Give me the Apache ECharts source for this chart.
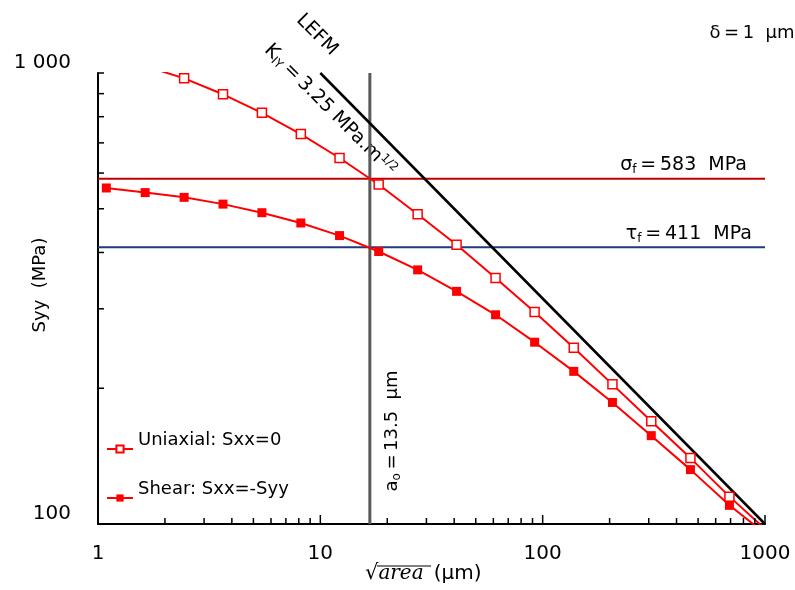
<!DOCTYPE html>
<html><head><meta charset="utf-8">
<script src="https://cdn.jsdelivr.net/npm/echarts@6/dist/echarts.min.js"></script>
<style>html,body{margin:0;padding:0;background:#fff}#c{width:795px;height:590px}</style>
</head><body><div id="c"></div>
<script>
// ---- data ----
const sqrtArea = [1.09, 1.63, 2.44, 3.65, 5.46, 8.17, 12.2, 18.3, 27.4, 41.0, 61.4, 92.0, 138, 206, 308, 462, 692, 1036];
const uniaxial = [1050, 1036, 973, 897, 816, 732, 648, 566, 486, 416, 351, 295, 246, 204, 169, 140, 115, 96];
const shear    = [556, 543, 530, 512, 490, 465, 436, 402, 366, 328, 291, 253, 218, 186, 157, 132, 110, 94];
const lefmX = [10, 1000];
const lefmY = [1000, 100];
const sigmaF = 583;
const tauF = 411;
const a0Line = 16.7;
const xRange = [1, 1000];
const yRange = [100, 1000];
const xMinorTicks = [2,3,4,5,6,7,8,9,20,30,40,50,60,70,80,90,200,300,400,500,600,700,800,900];
const xMajorTicks = [10, 100, 1000];
const yMinorTicks = [200,300,400,500,600,700,800,900];
const yMajorTicks = [1000];
const xTickLabels = {1: '1', 10: '10', 100: '100', 1000: '1000'};
const yTickLabels = {100: '100', 1000: '1 000'};

const FONT = 'DejaVu Sans';
const chart = echarts.init(document.getElementById('c'));
const zip = (a, b) => a.map((v, i) => [v, b[i]]);

function tickSeries(data, dir, len) {
  return {
    type: 'custom', silent: true, clip: false, z: 5,
    data: data,
    renderItem: function (params, api) {
      const p = api.coord([api.value(0), api.value(1)]);
      const shape = dir === 'up'
        ? {x1: p[0], y1: p[1], x2: p[0], y2: p[1] - len}
        : {x1: p[0], y1: p[1], x2: p[0] + len, y2: p[1]};
      return {type: 'line', shape: shape, style: {stroke: '#000', lineWidth: 1.5}};
    }
  };
}

const legendText = {color: '#000', fontSize: 18, fontFamily: FONT,
  rich: {t: {color: '#000', fontSize: 18, fontFamily: FONT, padding: [0, 0, 18, 0]}}};

const option = {
  animation: false,
  textStyle: {fontFamily: FONT},
  grid: {left: 98, right: 30, top: 73, bottom: 66, containLabel: false, outerBoundsMode: 'none'},
  xAxis: {
    type: 'log', logBase: 10, min: xRange[0], max: xRange[1],
    axisLine: {lineStyle: {color: '#000', width: 2}},
    axisTick: {show: false}, splitLine: {show: false},
    axisLabel: {color: '#000', fontSize: 20, margin: 20, fontFamily: FONT,
      formatter: v => xTickLabels[v] || ''}
  },
  yAxis: {
    type: 'log', logBase: 10, min: yRange[0], max: yRange[1],
    axisLine: {lineStyle: {color: '#000', width: 2}},
    axisTick: {show: false}, splitLine: {show: false},
    axisLabel: {color: '#000', fontSize: 20, margin: 27, verticalAlign: 'bottom', fontFamily: FONT,
      formatter: v => yTickLabels[v] || ''}
  },
  legend: [
    {left: 101, top: 426, itemWidth: 26, itemHeight: 9, itemGap: 3, textStyle: legendText,
      formatter: n => '{t|' + n + '}', data: ['Uniaxial: Sxx=0']},
    {left: 101, top: 475, itemWidth: 26, itemHeight: 9, itemGap: 3, textStyle: legendText,
      formatter: n => '{t|' + n + '}', data: ['Shear: Sxx=-Syy']}
  ],
  series: [
    {type: 'line', name: 'sigma', data: zip(xRange, [sigmaF, sigmaF]), showSymbol: false, silent: true,
      lineStyle: {color: '#c00000', width: 2}, z: 2},
    {type: 'line', name: 'tau', data: zip(xRange, [tauF, tauF]), showSymbol: false, silent: true,
      lineStyle: {color: '#1f3a7a', width: 2}, z: 2},
    {type: 'line', name: 'a0', data: zip([a0Line, a0Line], yRange), showSymbol: false, silent: true,
      lineStyle: {color: '#5a5a5a', width: 3}, z: 2},
    {type: 'line', name: 'LEFM', data: zip(lefmX, lefmY), showSymbol: false, silent: true,
      lineStyle: {color: '#000', width: 2.5}, z: 3},
    {type: 'line', name: 'Uniaxial: Sxx=0', data: zip(sqrtArea, uniaxial), symbol: 'rect', symbolSize: 9,
      itemStyle: {color: '#fff', borderColor: '#ff0000', borderWidth: 1.5},
      lineStyle: {color: '#ff0000', width: 2}, z: 4},
    {type: 'line', name: 'Shear: Sxx=-Syy', data: zip(sqrtArea, shear), symbol: 'rect', symbolSize: 9,
      itemStyle: {color: '#ff0000'},
      lineStyle: {color: '#ff0000', width: 2}, z: 4},
    tickSeries(xMinorTicks.map(v => [v, yRange[0]]), 'up', 6),
    tickSeries(xMajorTicks.map(v => [v, yRange[0]]), 'up', 9),
    tickSeries(yMinorTicks.map(v => [xRange[0], v]), 'right', 6),
    tickSeries(yMajorTicks.map(v => [xRange[0], v]), 'right', 6)
  ],
  graphic: [
    {type: 'text', x: 40, y: 285, rotation: Math.PI / 2,
      style: {text: 'Syy  (MPa)', fontSize: 18, fill: '#000', fontFamily: FONT, align: 'center', verticalAlign: 'middle'}},
    {type: 'text', x: 752, y: 33,
      style: {text: 'δ\u2009=\u20091  µm', fontSize: 18, fill: '#000', fontFamily: FONT, align: 'center', verticalAlign: 'middle'}},
    {type: 'text', x: 317, y: 35, rotation: -Math.PI / 4,
      style: {text: 'LEFM', fontSize: 19, fill: '#000', fontFamily: FONT, align: 'center', verticalAlign: 'middle'}},
    {type: 'text', x: 330, y: 110, rotation: -Math.PI / 4,
      style: {text: '{n|K}{sub|IY}{n|\u2009=\u20093.25 MPa.m}{sup|1/2}', align: 'center', verticalAlign: 'middle',
        rich: {n: {fontSize: 19, fill: '#000', fontFamily: FONT},
               sub: {fontSize: 12, fill: '#000', fontFamily: FONT, padding: [9, 0, 0, 0]},
               sup: {fontSize: 12, fill: '#000', fontFamily: FONT, padding: [0, 0, 9, 0]}}}},
    {type: 'text', x: 747, y: 165,
      style: {text: '{n|σ}{sub|f}{n|\u2009=\u2009583  MPa}', align: 'right', verticalAlign: 'middle',
        rich: {n: {fontSize: 19, fill: '#000', fontFamily: FONT},
               sub: {fontSize: 12, fill: '#000', fontFamily: FONT, padding: [9, 0, 0, 0]}}}},
    {type: 'text', x: 752, y: 234,
      style: {text: '{n|τ}{sub|f}{n|\u2009=\u2009411  MPa}', align: 'right', verticalAlign: 'middle',
        rich: {n: {fontSize: 19, fill: '#000', fontFamily: FONT},
               sub: {fontSize: 12, fill: '#000', fontFamily: FONT, padding: [9, 0, 0, 0]}}}},
    {type: 'text', x: 392, y: 431, rotation: Math.PI / 2,
      style: {text: '{n|a}{sub|o}{n|\u2009=\u200913.5  µm}', align: 'center', verticalAlign: 'middle',
        rich: {n: {fontSize: 18, fill: '#000', fontFamily: FONT},
               sub: {fontSize: 12, fill: '#000', fontFamily: FONT, padding: [9, 0, 0, 0]}}}},
    {type: 'group', left: 365, top: 563, children: [
      {type: 'text', x: 0, y: 0,
        style: {text: '{r|√}{i|area}{n|\u2002(µm)}',
          rich: {r: {fontSize: 21, fill: '#000', fontFamily: 'DejaVu Serif'},
                 i: {fontSize: 20, fill: '#000', fontFamily: 'DejaVu Serif', fontStyle: 'italic'},
                 n: {fontSize: 20, fill: '#000', fontFamily: FONT}}}},
      {type: 'line', shape: {x1: 12, y1: 3, x2: 66, y2: 3}, style: {stroke: '#000', lineWidth: 1.2}}
    ]}
  ]
};
chart.setOption(option);
</script>
</body></html>
